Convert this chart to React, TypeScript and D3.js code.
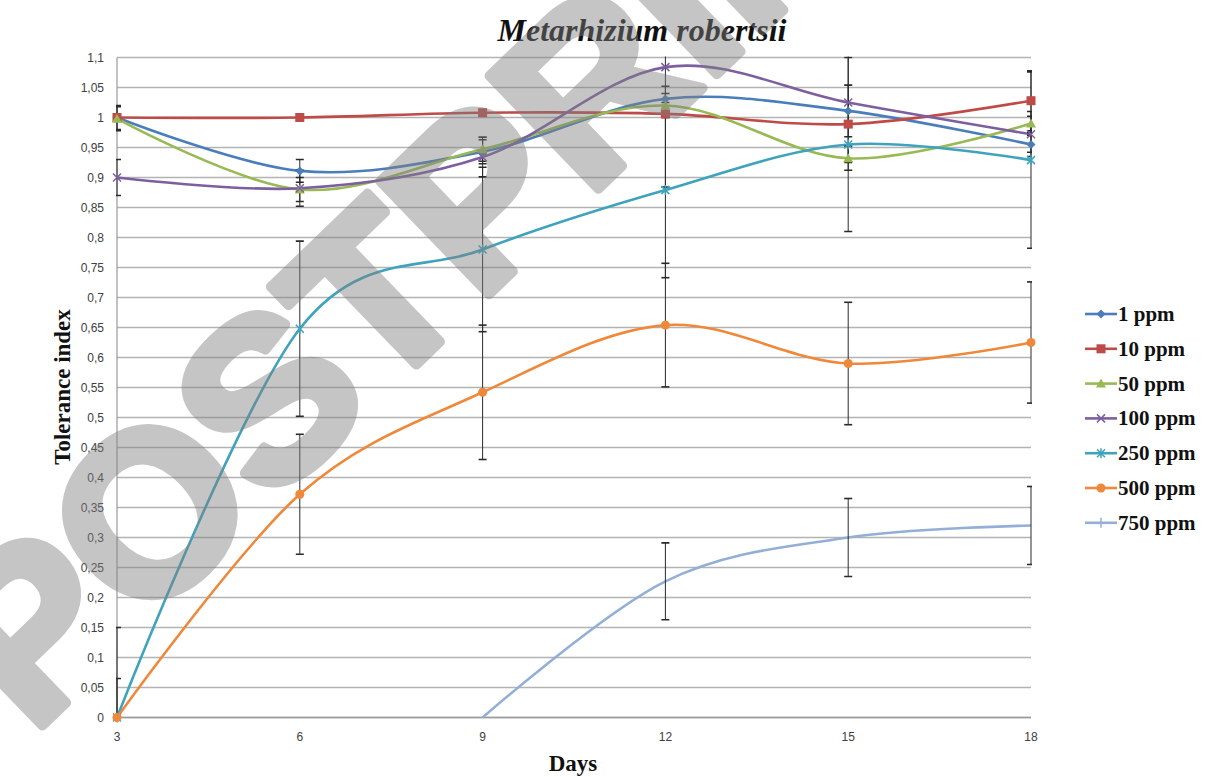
import React from 'react';
import * as d3 from 'd3';

// Sampling days (x axis)
const days = [3, 6, 9, 12, 15, 18];

// Tolerance index per concentration
const ppm1 = [1.0, 0.911, 0.943, 1.031, 1.011, 0.955];
const ppm10 = [1.0, 1.0, 1.008, 1.006, 0.989, 1.028];
const ppm50 = [0.998, 0.88, 0.947, 1.02, 0.932, 0.99];
const ppm100 = [0.9, 0.882, 0.934, 1.084, 1.025, 0.972];
const ppm250 = [0, 0.648, 0.78, 0.879, 0.955, 0.929];
const ppm500 = [0, 0.372, 0.542, 0.654, 0.59, 0.625];
const ppm750: (number | null)[] = [null, null, 0, 0.227, 0.3, 0.32];

// Standard deviations (symmetric error bars)
const err1 = [0.02, 0.019, 0.02, 0.021, 0.043, 0.02];
const err10 = [0.005, 0.005, 0.005, 0.005, 0.005, 0.05];
const err50 = [0.02, 0.02, 0.02, 0.02, 0.02, 0.02];
const err100 = [0.03, 0.03, 0.033, 0.2, 0.1, 0.03];
const err250 = [0.15, 0.146, 0.137, 0.146, 0.145, 0.147];
const err500 = [0.065, 0.1, 0.112, 0.103, 0.102, 0.101];
const err750: (number | null)[] = [null, null, null, 0.064, 0.065, 0.065];

const seriesNames = ['1 ppm', '10 ppm', '50 ppm', '100 ppm', '250 ppm', '500 ppm', '750 ppm'];
const seriesColors = ['#4a7ebb', '#be4b48', '#98b954', '#7d5fa0', '#3fa3bd', '#f0883a', '#93afd8'];
const seriesMarkers = ['diamond', 'square', 'triangle', 'x', 'star', 'circle', 'plus'];

const yTicks = [0, 0.05, 0.1, 0.15, 0.2, 0.25, 0.3, 0.35, 0.4, 0.45, 0.5, 0.55, 0.6, 0.65, 0.7, 0.75, 0.8, 0.85, 0.9, 0.95, 1, 1.05, 1.1];

const titleText = 'Metarhizium robertsii';
const xTitle = 'Days';
const yTitle = 'Tolerance index';
const stampText = 'POSTPRINT';

const W = 1214;
const H = 777;
const left = 117;
const right = 1031;
const top = 57.5;
const bottom = 717.5;

const x = d3.scaleLinear().domain([3, 18]).range([left, right]);
const y = d3.scaleLinear().domain([0, 1.1]).range([bottom, top]);

const fmt = (v: number) => String(+v.toFixed(2)).replace('.', ',');

function Marker({ kind, cx, cy, color }: { kind: string; cx: number; cy: number; color: string }) {
  switch (kind) {
    case 'diamond':
      return <path d={`M${cx},${cy - 4.5}L${cx + 4.5},${cy}L${cx},${cy + 4.5}L${cx - 4.5},${cy}Z`} fill={color} />;
    case 'square':
      return <rect x={cx - 4.5} y={cy - 4.5} width={9} height={9} fill={color} />;
    case 'triangle':
      return <path d={`M${cx},${cy - 5}L${cx + 5},${cy + 4}L${cx - 5},${cy + 4}Z`} fill={color} />;
    case 'x':
      return <path d={`M${cx - 4},${cy - 4}L${cx + 4},${cy + 4}M${cx - 4},${cy + 4}L${cx + 4},${cy - 4}`} stroke={color} strokeWidth={1.5} />;
    case 'star':
      return (
        <path
          d={`M${cx - 4},${cy - 4}L${cx + 4},${cy + 4}M${cx - 4},${cy + 4}L${cx + 4},${cy - 4}M${cx},${cy - 5}L${cx},${cy + 5}`}
          stroke={color}
          strokeWidth={1.5}
        />
      );
    case 'circle':
      return <circle cx={cx} cy={cy} r={4.5} fill={color} />;
    case 'plus':
      return <path d={`M${cx - 5},${cy}L${cx + 5},${cy}M${cx},${cy - 5}L${cx},${cy + 5}`} stroke={color} strokeWidth={1.5} />;
    default:
      return null;
  }
}

export default function App() {
  const values = [ppm1, ppm10, ppm50, ppm100, ppm250, ppm500, ppm750];
  const errors = [err1, err10, err50, err100, err250, err500, err750];

  const line = d3
    .line<[number, number]>()
    .x((d) => x(d[0]))
    .y((d) => y(d[1]))
    .curve(d3.curveCatmullRom.alpha(0));

  const series = values.map((vals, i) => {
    const pts: [number, number][] = [];
    vals.forEach((v, j) => {
      if (v !== null) pts.push([days[j], v]);
    });
    return { name: seriesNames[i], color: seriesColors[i], marker: seriesMarkers[i], pts, err: errors[i], vals };
  });

  const legendX = 1085;
  const legendY0 = 314;
  const legendStep = 34.8;

  return (
    <svg width={W} height={H} style={{ position: 'absolute', left: 0, top: 0, background: '#fff' }}>
      <defs>
        <clipPath id="plotClip">
          <rect x={left - 1} y={top - 1} width={right - left + 2} height={bottom - top + 2} />
        </clipPath>
      </defs>

      {/* horizontal gridlines */}
      <g>
        {yTicks.map((t) => (
          <line key={t} x1={left} x2={right} y1={y(t)} y2={y(t)} stroke="#b3b3b3" strokeWidth={1.3} />
        ))}
        <line x1={left} x2={left} y1={top} y2={bottom} stroke="#9a9a9a" strokeWidth={1.2} />
        <line x1={left} x2={right} y1={bottom} y2={bottom} stroke="#9a9a9a" strokeWidth={1.4} />
      </g>

      {/* tick labels */}
      <g fontFamily="Liberation Sans, Arial, sans-serif" fontSize={12} fill="#404040">
        {yTicks.map((t) => (
          <text key={t} x={104} y={y(t)} dy="0.35em" textAnchor="end">
            {fmt(t)}
          </text>
        ))}
        {days.map((d) => (
          <text key={d} x={x(d)} y={741} textAnchor="middle">
            {d}
          </text>
        ))}
      </g>

      {/* series lines */}
      <g clipPath="url(#plotClip)">
        {series.map((s) => (
          <path key={s.name} d={line(s.pts) || ''} fill="none" stroke={s.color} strokeWidth={2.6} strokeLinejoin="round" />
        ))}
      </g>

      {/* error bars */}
      <g clipPath="url(#plotClip)" stroke="#2a2a2a" strokeWidth={1}>
        {series.map((s) =>
          s.vals.map((v, j) => {
            const e = s.err[j];
            if (v === null || e === null || e === undefined) return null;
            const cx = x(days[j]);
            const y1 = y(v + e);
            const y2 = y(v - e);
            return (
              <g key={`${s.name}-${j}`}>
                <line x1={cx} x2={cx} y1={y1} y2={y2} />
                <line x1={cx - 4} x2={cx + 4} y1={y1} y2={y1} strokeWidth={1.6} />
                <line x1={cx - 4} x2={cx + 4} y1={y2} y2={y2} strokeWidth={1.6} />
              </g>
            );
          })
        )}
      </g>

      {/* markers */}
      <g>
        {series.map((s) =>
          s.pts.map((p, j) =>
            s.marker === 'plus' ? null : (
              <Marker key={`${s.name}-m-${j}`} kind={s.marker} cx={x(p[0])} cy={y(p[1])} color={s.color} />
            )
          )
        )}
      </g>

      {/* title and axis titles */}
      <text x={642} y={41} textAnchor="middle" fontFamily="Liberation Serif, Times New Roman, serif" fontStyle="italic" fontWeight="bold" fontSize={32} fill="#111">
        {titleText}
      </text>
      <text x={573} y={771} textAnchor="middle" fontFamily="Liberation Serif, Times New Roman, serif" fontWeight="bold" fontSize={23} fill="#111">
        {xTitle}
      </text>
      <text
        transform={`translate(70,387) rotate(-90)`}
        textAnchor="middle"
        fontFamily="Liberation Serif, Times New Roman, serif"
        fontWeight="bold"
        fontSize={23}
        fill="#111"
      >
        {yTitle}
      </text>

      {/* legend */}
      <g fontFamily="Liberation Serif, Times New Roman, serif" fontWeight="bold" fontSize={21} fill="#111">
        {series.map((s, i) => {
          const ly = legendY0 + i * legendStep;
          return (
            <g key={s.name}>
              <line x1={legendX} x2={legendX + 32} y1={ly} y2={ly} stroke={s.color} strokeWidth={2.6} />
              <Marker kind={s.marker} cx={legendX + 16} cy={ly} color={s.color} />
              <text x={legendX + 33} y={ly} dy="0.33em">
                {s.name}
              </text>
            </g>
          );
        })}
      </g>

      {/* diagonal stamp */}
      <text
        transform="translate(446,226) rotate(-44)"
        textAnchor="middle"
        dominantBaseline="central"
        fontFamily="Liberation Sans, Arial, sans-serif"
        fontWeight="bold"
        fontSize={228}
        fill="#808080"
        stroke="#808080"
        strokeWidth={10}
        strokeLinejoin="round"
        opacity={0.45}
      >
        {stampText}
      </text>
    </svg>
  );
}
